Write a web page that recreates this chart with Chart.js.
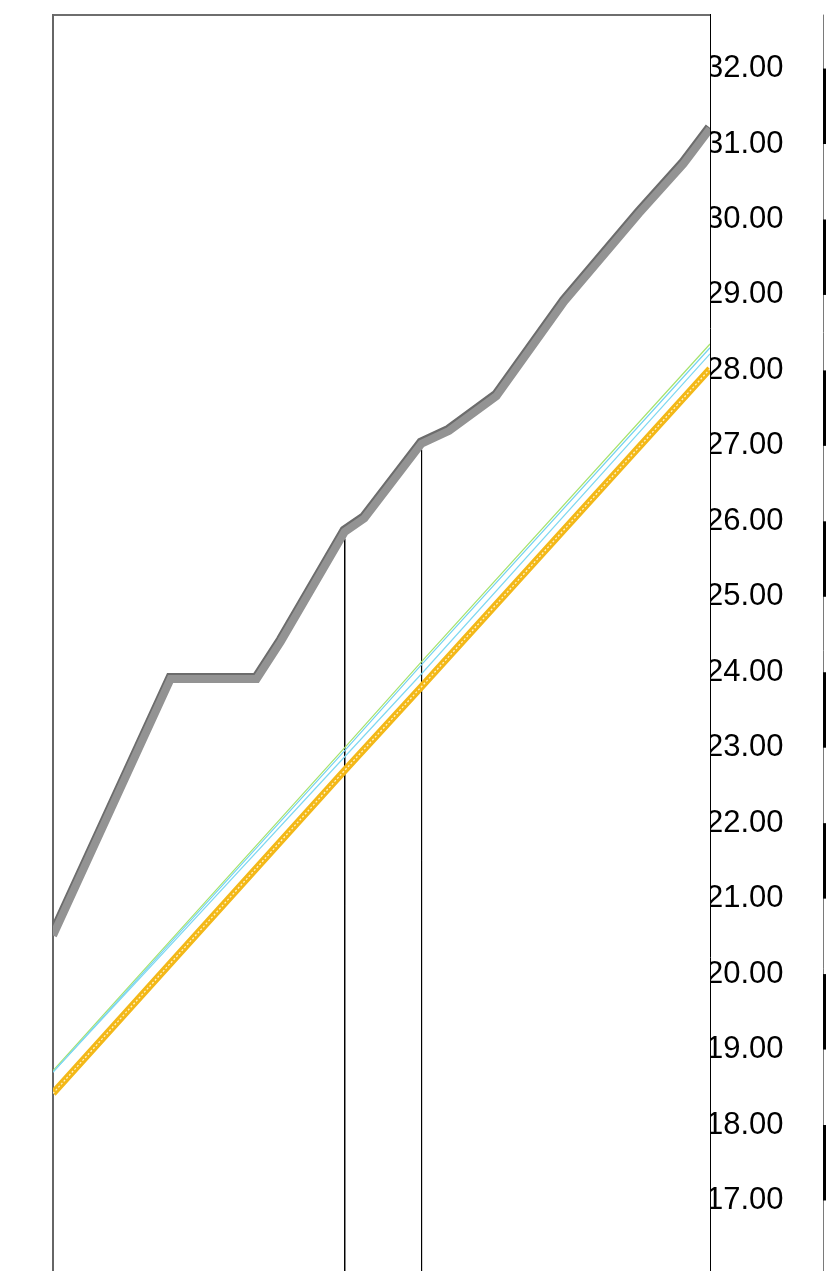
<!DOCTYPE html>
<html><head><meta charset="utf-8">
<script src="https://cdn.jsdelivr.net/npm/chart.js@4/dist/chart.umd.min.js"></script>
<style>html,body{margin:0;padding:0;background:#fff;overflow:hidden;height:1271px}canvas{display:block}</style>
</head><body>
<canvas id="c" width="826" height="1286"></canvas>
<script>
// ---- data ----
const xMainLine = [0, 17.9, 31.0, 34.7, 44.4, 47.4, 56.1, 60.3, 67.5, 77.8, 89.2, 96.0, 100];
const yMainLine = [20.51, 23.91, 23.91, 24.41, 25.86, 26.04, 27.03, 27.20, 27.66, 28.91, 30.08, 30.74, 31.20];
const xTrend = [0, 44.4, 56.1, 100];
const yGreen  = [18.72, 23.00, 24.14, 28.35];
const yCyan1  = [18.70, 22.96, 24.10, 28.30];
const yCyan2  = [18.70, 22.88, 23.98, 28.22];
const yOrange = [18.42, 22.70, 23.81, 28.02];
const xMarkers = [44.4, 56.1];
const yMarkerTops = [25.77, 26.95];
const yTickValues = [17,18,19,20,21,22,23,24,25,26,27,28,29,30,31,32];
const rulerBands = [[31,32],[29,30],[27,28],[25,26],[23,24],[21,22],[19,20],[17,18]];
const yMin = 16.06, yMax = 32.715;
const xMin = 0, xMax = 100;

const pts = (xs, ys) => xs.map((x, i) => ({x, y: ys[i]}));

const datasets = [
  {data: pts(xMainLine, yMainLine), borderColor: '#939393', borderWidth: 8, order: 1, _shadow: true},
  {data: pts(xTrend, yGreen), borderColor: '#a6e36c', borderWidth: 1.2, order: 5},
  {data: pts(xTrend, yCyan1), borderColor: '#74d3f0', borderWidth: 1.2, order: 4},
  {data: pts(xTrend, yCyan2), borderColor: '#7fd8f2', borderWidth: 1.2, order: 3},
  {data: pts(xTrend, yOrange), borderColor: '#f3b818', borderWidth: 7, order: 2},
  {data: pts(xTrend, yOrange), borderColor: '#fff3c8', borderWidth: 1.3, borderDash: [2, 2], order: 1.5},
];
xMarkers.forEach((xm, i) => {
  datasets.push({data: [{x: xm, y: yMarkerTops[i]}, {x: xm, y: yMin}], borderColor: '#000', borderWidth: 1, order: 6});
});

const shadowPlugin = {
  id: 'shadow',
  beforeDatasetDraw(chart, args) {
    const ds = chart.data.datasets[args.index];
    if (ds._shadow) {
      const ctx = chart.ctx;
      ctx.save();
      ctx.shadowColor = '#6c6c6c';
      ctx.shadowBlur = 0;
      ctx.shadowOffsetX = -1;
      ctx.shadowOffsetY = -2;
    }
  },
  afterDatasetDraw(chart, args) {
    const ds = chart.data.datasets[args.index];
    if (ds._shadow) chart.ctx.restore();
  }
};

const rulerPlugin = {
  id: 'ruler',
  afterDraw(chart) {
    const ctx = chart.ctx, y = chart.scales.y;
    const xr = 823;
    ctx.save();
    ctx.strokeStyle = '#7a7a7a';
    ctx.lineWidth = 1;
    ctx.beginPath();
    ctx.moveTo(xr + 0.5, chart.chartArea.top);
    ctx.lineTo(xr + 0.5, chart.height);
    ctx.stroke();
    ctx.fillStyle = '#000';
    rulerBands.forEach(([a, b]) => {
      const y1 = y.getPixelForValue(b), y2 = y.getPixelForValue(a);
      ctx.fillRect(xr, y1, 3, y2 - y1);
    });
    ctx.restore();
  }
};

new Chart(document.getElementById('c'), {
  type: 'line',
  data: {datasets},
  options: {
    responsive: false,
    devicePixelRatio: 1,
    animation: false,
    layout: {padding: {top: 13, left: 53, right: 0, bottom: 0}},
    elements: {point: {radius: 0}, line: {tension: 0, fill: false}},
    plugins: {legend: {display: false}, tooltip: {enabled: false}},
    scales: {
      x: {
        type: 'linear', position: 'top', min: xMin, max: xMax,
        ticks: {display: false},
        grid: {display: false, drawTicks: false},
        border: {display: true, color: '#6e6e6e', width: 2},
        afterFit: s => { s.height = 0; }
      },
      yLeft: {
        type: 'linear', position: 'left', min: yMin, max: yMax,
        ticks: {display: false},
        grid: {display: false, drawTicks: false},
        border: {display: true, color: '#666', width: 2},
        afterFit: s => { s.width = 0; }
      },
      y: {
        type: 'linear', position: 'right', min: yMin, max: yMax,
        afterBuildTicks: s => { s.ticks = yTickValues.map(v => ({value: v})); },
        ticks: {
          autoSkip: false, padding: -4, color: '#000',
          font: {family: "'Liberation Sans', Arial, sans-serif", size: 31},
          callback: v => Number(v).toFixed(2)
        },
        grid: {display: false, drawTicks: false},
        border: {display: true, color: '#000', width: 1},
        afterFit: s => { s.width = 116; }
      }
    }
  },
  plugins: [shadowPlugin, rulerPlugin]
});
</script>
</body></html>
